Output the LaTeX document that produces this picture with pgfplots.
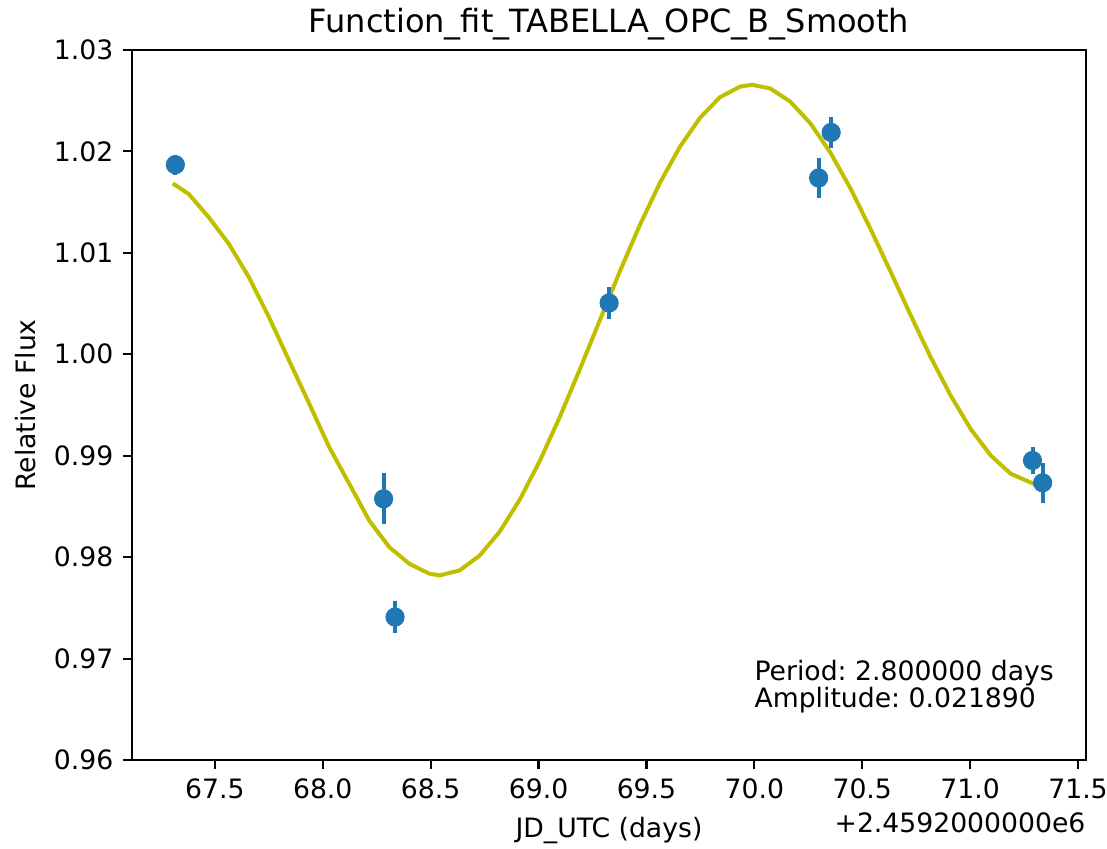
\documentclass[border=0pt]{standalone}
\usepackage{fontspec}
\setmainfont{DejaVu Sans}
\usepackage{pgfplots}
\usepackage{pgfplotstable}
\pgfplotsset{compat=1.18}
\definecolor{mplblue}{HTML}{1F77B4}
\definecolor{mplyellow}{rgb}{0.75,0.75,0}
\frenchspacing

\pgfplotstableread{
x y
67.305 1.01685
67.379 1.01580
67.472 1.01350
67.565 1.01088
67.658 1.00759
67.751 1.00365
67.844 0.99938
67.937 0.99514
68.030 0.99084
68.123 0.98723
68.215 0.98362
68.308 0.98099
68.401 0.97935
68.494 0.97837
68.541 0.97820
68.634 0.97869
68.726 0.98013
68.819 0.98248
68.912 0.98563
69.005 0.98945
69.098 0.99380
69.191 0.99850
69.284 1.00336
69.377 1.00818
69.470 1.01277
69.563 1.01693
69.656 1.02049
69.749 1.02333
69.841 1.02535
69.934 1.02639
69.990 1.02657
70.074 1.02620
70.167 1.02490
70.260 1.02276
70.353 1.01986
70.446 1.01633
70.538 1.01237
70.631 1.00816
70.724 1.00387
70.817 0.99972
70.910 0.99592
71.003 0.99262
71.096 0.99001
71.189 0.98821
71.296 0.98722
71.330 0.98716
}\fitcurve

\pgfplotstableread{
x y ey
67.317 1.01869 0.0010
68.282 0.98575 0.0025
68.335 0.97409 0.0016
69.327 1.00506 0.0016
70.298 1.01738 0.0020
70.356 1.02187 0.0015
71.289 0.98953 0.0013
71.336 0.98733 0.0020
}\obsdata

\begin{document}
\begin{tikzpicture}
\begin{axis}[
  scale only axis,
  width=357.75pt, height=266.25pt,
  xmin=67.116, xmax=71.537,
  ymin=0.96, ymax=1.03,
  xtick={67.5,68,68.5,69,69.5,70,70.5,71,71.5},
  xticklabels={67.5,68.0,68.5,69.0,69.5,70.0,70.5,71.0,71.5},
  ytick={0.96,0.97,0.98,0.99,1.00,1.01,1.02,1.03},
  yticklabels={0.96,0.97,0.98,0.99,1.00,1.01,1.02,1.03},
  xtick pos=bottom, ytick pos=left,
  tick align=outside,
  major tick length=3.5pt,
  tick style={black, line width=0.8pt},
  axis line style={line width=0.8pt},
  ticklabel style={font=\fontsize{10}{12}\selectfont},
  label style={font=\fontsize{10}{12}\selectfont},
  every axis title/.style={at={(0.5,1)}, anchor=base, yshift=6.5pt, inner sep=0pt, font=\fontsize{12}{14}\selectfont},
  title={Function\_fit\_TABELLA\_OPC\_B\_Smooth},
  xlabel={JD\_UTC (days)},
  ylabel={Relative Flux},
  clip=false,
]
\addplot[mplyellow, line width=1.5pt, no markers] table[x=x, y=y] {\fitcurve};
\addplot[only marks, mark=*, mark size=3.4pt, mplblue,
  mark options={draw=mplblue, fill=mplblue},
  error bars/.cd, y dir=both, y explicit, error mark=none,
  error bar style={line width=1.5pt, mplblue}]
  table[x=x, y=y, y error=ey] {\obsdata};
\node[anchor=north east, inner sep=0pt, font=\fontsize{10}{12}\selectfont]
  at (rel axis cs:1,0) [yshift=-19.5pt] {+2.4592000000e6};
\node[anchor=south west, align=left, inner sep=0pt, font=\fontsize{10}{10.2}\selectfont]
  at (rel axis cs:0.652,0.0648) {Period: 2.800000 days\\Amplitude: 0.021890};
\end{axis}
\pgfresetboundingbox
\path[use as bounding box] ([shift={(-49.5pt,-33pt)}]current axis.south west) rectangle ([shift={(7.875pt,18.75pt)}]current axis.north east);
\end{tikzpicture}
\end{document}
